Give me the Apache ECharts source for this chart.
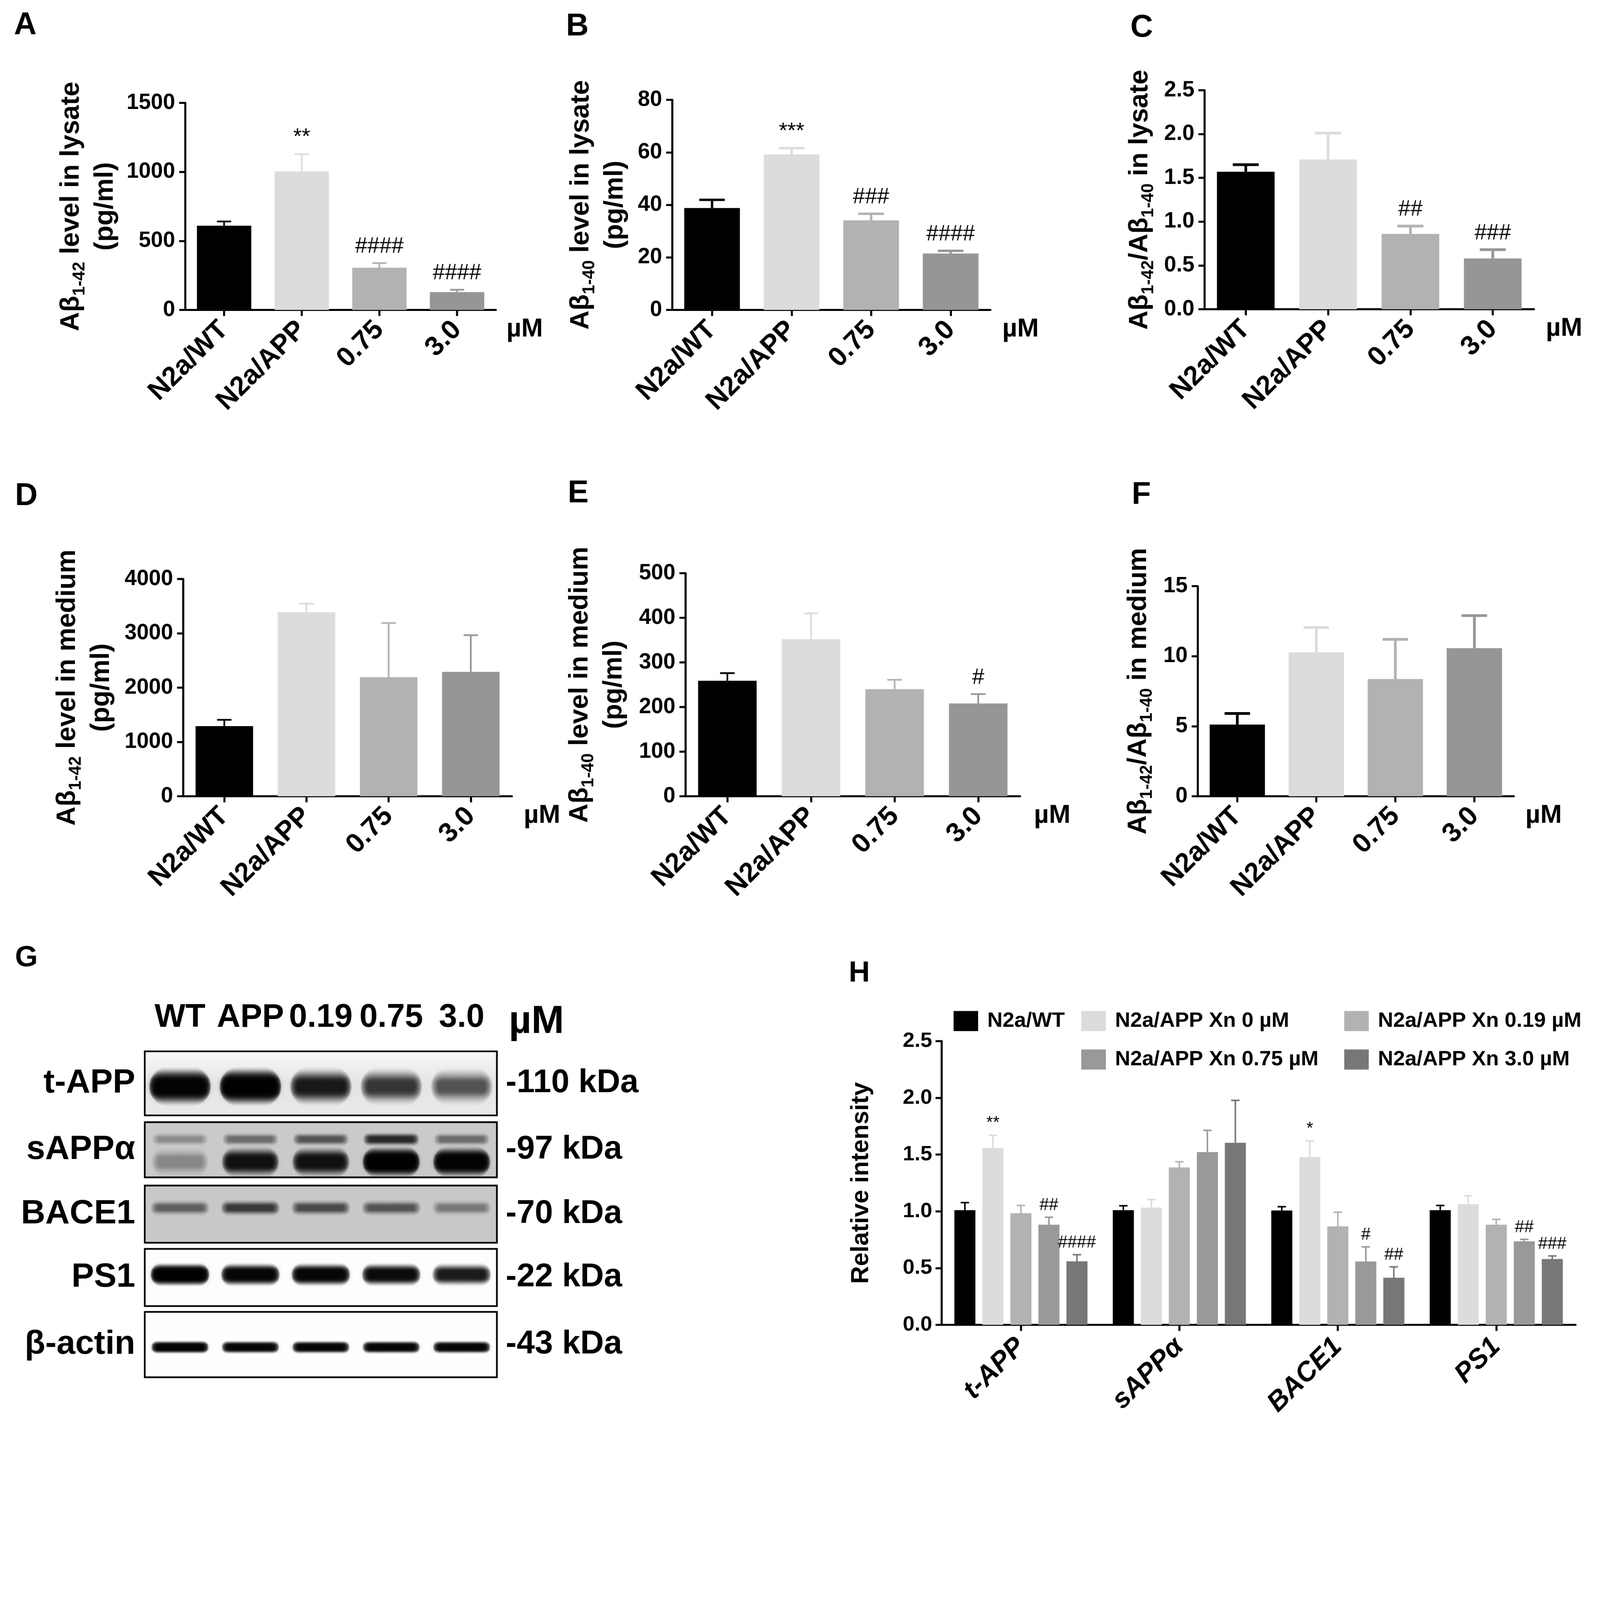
<!DOCTYPE html>
<html>
<head>
<meta charset="utf-8">
<script src="https://cdn.jsdelivr.net/npm/echarts@6.0.0/dist/echarts.min.js"></script>
<style>
  html, body { margin: 0; padding: 0; background: #fff; overflow: hidden; }
  #fig { width: 4698px; height: 4178px; transform-origin: 0 0; }
</style>
</head>
<body>
<div id="fig"></div>
<script>
// ---- data ----
const groups = ['N2a/WT', 'N2a/APP', '0.75', '3.0'];
const groupColors = ['#000000', '#dcdcdc', '#b2b2b2', '#969696'];

// A: Ab1-42 in lysate
const lysate42 = [610, 1003, 306, 129];
const lysate42Err = [31, 125, 33, 17];
const lysate42Marks = ['', '**', '####', '####'];
const lysate42Ticks = [0, 500, 1000, 1500];
// B: Ab1-40 in lysate
const lysate40 = [38.8, 59.2, 34.1, 21.5];
const lysate40Err = [3.1, 2.4, 2.5, 1.0];
const lysate40Marks = ['', '***', '###', '####'];
const lysate40Ticks = [0, 20, 40, 60, 80];
// C: ratio in lysate
const lysateRatio = [1.57, 1.71, 0.86, 0.58];
const lysateRatioErr = [0.08, 0.30, 0.09, 0.10];
const lysateRatioMarks = ['', '', '##', '###'];
const lysateRatioTicks = [0, 0.5, 1.0, 1.5, 2.0, 2.5];
// D: Ab1-42 in medium
const medium42 = [1292, 3388, 2191, 2290];
const medium42Err = [115, 157, 999, 675];
const medium42Marks = ['', '', '', ''];
const medium42Ticks = [0, 1000, 2000, 3000, 4000];
// E: Ab1-40 in medium
const medium40 = [259, 352, 240, 208];
const medium40Err = [17, 58, 21, 21];
const medium40Marks = ['', '', '', '#'];
const medium40Ticks = [0, 100, 200, 300, 400, 500];
// F: ratio in medium
const mediumRatio = [5.12, 10.28, 8.37, 10.57];
const mediumRatioErr = [0.79, 1.77, 2.83, 2.33];
const mediumRatioMarks = ['', '', '', ''];
const mediumRatioTicks = [0, 5, 10, 15];

// G: western blot (relative band darkness per lane)
const lanes = ['WT', 'APP', '0.19', '0.75', '3.0'];
const blotRows = ['t-APP', 'sAPPα', 'BACE1', 'PS1', 'β-actin'];
const blotMarkers = ['-110 kDa', '-97 kDa', '-70 kDa', '-22 kDa', '-43 kDa'];
const tAppBand = [0.97, 1.0, 0.85, 0.72, 0.6];
const sAppUpperBand = [0.3, 0.45, 0.55, 0.75, 0.45];
const sAppLowerBand = [0.32, 0.88, 0.88, 1.0, 0.97];
const bace1Band = [0.5, 0.68, 0.6, 0.55, 0.38];
const ps1Band = [1.0, 0.95, 0.95, 0.92, 0.85];
const actinBand = [0.97, 0.95, 0.95, 0.95, 0.95];

// H: relative intensity
const proteins = ['t-APP', 'sAPPα', 'BACE1', 'PS1'];
const doseNames = ['N2a/WT', 'N2a/APP Xn 0 µM', 'N2a/APP Xn 0.19 µM', 'N2a/APP Xn 0.75 µM', 'N2a/APP Xn 3.0 µM'];
const doseColors = ['#000000', '#dcdcdc', '#b2b2b2', '#999999', '#777777'];
const relWT = [1.011, 1.011, 1.008, 1.011];
const relWTErr = [0.066, 0.038, 0.033, 0.041];
const relApp = [1.558, 1.033, 1.478, 1.063];
const relAppErr = [0.112, 0.071, 0.143, 0.074];
const rel019 = [0.984, 1.387, 0.868, 0.882];
const rel019Err = [0.068, 0.050, 0.124, 0.047];
const rel075 = [0.882, 1.522, 0.558, 0.736];
const rel075Err = [0.066, 0.192, 0.129, 0.017];
const rel30 = [0.560, 1.604, 0.415, 0.580];
const rel30Err = [0.058, 0.374, 0.096, 0.027];
const relMarks = [['', '', '', ''], ['**', '', '*', ''], ['', '', '', ''], ['##', '', '#', '##'], ['####', '', '##', '###']];
const relTicks = [0, 0.5, 1.0, 1.5, 2.0, 2.5];

// ---- styling ----
const FONT = 'Liberation Sans';
const W = 4698, HGT = 4178;
const axisLine = { show: true, lineStyle: { color: '#000', width: 6 } };
const axisTick = { show: true, length: 18, lineStyle: { color: '#000', width: 6 } };
const titleRich = {
  t: { fontFamily: FONT, fontSize: 78, fontWeight: 'bold', color: '#000', lineHeight: 100 },
  s: { fontFamily: FONT, fontSize: 50, fontWeight: 'bold', color: '#000', lineHeight: 46, verticalAlign: 'bottom' }
};

function tickRange(ticks) {
  return { min: ticks[0], max: ticks[ticks.length - 1], interval: ticks[1] - ticks[0] };
}

function errorSeries(idx, vals, errs, marks, colorOf, o) {
  return {
    type: 'custom', xAxisIndex: idx, yAxisIndex: idx, z: 3, silent: true,
    data: vals.map((v, i) => [i, v, errs[i]]),
    renderItem(params, api) {
      const i = api.value(0), v = api.value(1), e = api.value(2);
      const cw = api.size([1, 0])[0];
      const shift = o.offset ? o.offset(cw) : 0;
      const p0 = api.coord([i, v]), p1 = api.coord([i, v + e]);
      const x = p0[0] + shift;
      const capW = cw * o.barFrac * o.cap;
      const col = colorOf(i);
      const kids = [
        { type: 'line', shape: { x1: x, y1: p0[1], x2: x, y2: p1[1] }, style: { stroke: col, lineWidth: o.lw } },
        { type: 'line', shape: { x1: x - capW / 2, y1: p1[1], x2: x + capW / 2, y2: p1[1] }, style: { stroke: col, lineWidth: o.lw } }
      ];
      if (marks[i]) {
        kids.push({ type: 'text', style: { text: marks[i], x: x, y: p1[1] - o.markGap, align: 'center', verticalAlign: 'bottom', fontFamily: FONT, fontSize: o.markSize, fill: '#000' } });
      }
      return { type: 'group', children: kids };
    }
  };
}

const panels = [
  { vals: lysate42, errs: lysate42Err, marks: lysate42Marks, ticks: lysate42Ticks, digits: 0,
    title: '{t|Aβ}{s|1-42}{t| level in lysate}\n{t|(pg/ml)}',
    box: { left: 544, top: 302, width: 912, height: 608 }, nameGap: 185, cap: 0.26, lw: 5, unitGap: 31 },
  { vals: lysate40, errs: lysate40Err, marks: lysate40Marks, ticks: lysate40Ticks, digits: 0,
    title: '{t|Aβ}{s|1-40}{t| level in lysate}\n{t|(pg/ml)}',
    box: { left: 1974, top: 293, width: 934, height: 617 }, nameGap: 118, cap: 0.46, lw: 7, unitGap: 35 },
  { vals: lysateRatio, errs: lysateRatioErr, marks: lysateRatioMarks, ticks: lysateRatioTicks, digits: 1,
    title: '{t|Aβ}{s|1-42}{t|/Aβ}{s|1-40}{t| in lysate}',
    box: { left: 3537, top: 265, width: 967, height: 643 }, nameGap: 140, cap: 0.45, lw: 8, unitGap: 35 },
  { vals: medium42, errs: medium42Err, marks: medium42Marks, ticks: medium42Ticks, digits: 0,
    title: '{t|Aβ}{s|1-42}{t| level in medium}\n{t|(pg/ml)}',
    box: { left: 538, top: 1700, width: 965, height: 638 }, nameGap: 190, cap: 0.25, lw: 5, unitGap: 35 },
  { vals: medium40, errs: medium40Err, marks: medium40Marks, ticks: medium40Ticks, digits: 0,
    title: '{t|Aβ}{s|1-40}{t| level in medium}\n{t|(pg/ml)}',
    box: { left: 2013, top: 1683, width: 982, height: 655 }, nameGap: 160, cap: 0.25, lw: 5, unitGap: 41 },
  { vals: mediumRatio, errs: mediumRatioErr, marks: mediumRatioMarks, ticks: mediumRatioTicks, digits: 0,
    title: '{t|Aβ}{s|1-42}{t|/Aβ}{s|1-40}{t| in medium}',
    box: { left: 3517, top: 1721, width: 928, height: 617 }, nameGap: 124, cap: 0.46, lw: 8, unitGap: 34 }
];

const grids = [], xAxes = [], yAxes = [], series = [], legends = [], graphic = [];

panels.forEach((p, k) => {
  const r = tickRange(p.ticks);
  grids.push(Object.assign({}, p.box));
  xAxes.push({
    type: 'category', gridIndex: k, data: groups,
    axisLine, axisTick: Object.assign({ alignWithLabel: true }, axisTick),
    axisLabel: { rotate: 45, interval: 0, margin: 46, fontSize: 80, fontWeight: 'bold', color: '#000', fontFamily: FONT }
  });
  yAxes.push({
    type: 'value', gridIndex: k, min: r.min, max: r.max, interval: r.interval,
    axisLine, axisTick, splitLine: { show: false },
    axisLabel: { margin: 30, fontSize: 64, fontWeight: 'bold', color: '#000', fontFamily: FONT, formatter: v => v.toFixed(p.digits) },
    name: p.title, nameLocation: 'middle', nameRotate: 90, nameGap: p.nameGap,
    nameTextStyle: { rich: titleRich, align: 'center' }
  });
  series.push({
    type: 'bar', xAxisIndex: k, yAxisIndex: k, barWidth: '70%', silent: true,
    data: p.vals.map((v, i) => ({ value: v, itemStyle: { color: groupColors[i] } }))
  });
  series.push(errorSeries(k, p.vals, p.errs, p.marks, i => groupColors[i],
    { barFrac: 0.7, cap: p.cap, lw: p.lw, markGap: 16, markSize: 64 }));
  // unit label sits just below the right end of the x axis
  graphic.push({
    type: 'text', x: p.box.left + p.box.width + p.unitGap, y: p.box.top + p.box.height + 57,
    style: { text: 'µM', fontFamily: FONT, fontSize: 76, fontWeight: 'bold', fill: '#000', verticalAlign: 'middle' }
  });
});

// ---- H: grouped bars ----
const H = 6;
const relVals = [relWT, relApp, rel019, rel075, rel30];
const relErrs = [relWTErr, relAppErr, rel019Err, rel075Err, rel30Err];
const catGap = 0.16, barGap = 0.33, nBars = relVals.length;
const barFracH = (1 - catGap) / (nBars + (nBars - 1) * barGap);
const rH = tickRange(relTicks);
grids.push({ left: 2765, top: 3057, width: 1861, height: 833 });
xAxes.push({
  type: 'category', gridIndex: H, data: proteins,
  axisLine, axisTick: Object.assign({ alignWithLabel: true }, axisTick),
  axisLabel: { rotate: 45, interval: 0, margin: 52, fontSize: 80, fontWeight: 'bold', fontStyle: 'italic', color: '#000', fontFamily: FONT }
});
yAxes.push({
  type: 'value', gridIndex: H, min: rH.min, max: rH.max, interval: rH.interval,
  axisLine, axisTick, splitLine: { show: false },
  axisLabel: { margin: 28, fontSize: 62, fontWeight: 'bold', color: '#000', fontFamily: FONT, formatter: v => v.toFixed(1) },
  name: 'Relative intensity', nameLocation: 'middle', nameRotate: 90, nameGap: 200,
  nameTextStyle: { fontSize: 72, fontWeight: 'bold', color: '#000', fontFamily: FONT }
});
relVals.forEach((vals, j) => {
  series.push({
    type: 'bar', name: doseNames[j], xAxisIndex: H, yAxisIndex: H, silent: true,
    barGap: (barGap * 100) + '%', barCategoryGap: (catGap * 100) + '%',
    itemStyle: { color: doseColors[j] }, data: vals
  });
  series.push(errorSeries(H, vals, relErrs[j], relMarks[j], () => doseColors[j], {
    barFrac: barFracH, cap: 0.4, lw: 4.5, markGap: 10, markSize: 50,
    offset: cw => cw * (-(1 - catGap) / 2 + barFracH / 2 + j * barFracH * (1 + barGap))
  }));
});
const legendSpots = [[2800, 2967], [3175, 2967], [3947, 2967], [3175, 3080], [3947, 3080]];
doseNames.forEach((nm, j) => {
  legends.push({
    data: [nm], left: legendSpots[j][0], top: legendSpots[j][1], padding: 0,
    icon: 'rect', itemWidth: 72, itemHeight: 59, selectedMode: false,
    textStyle: { fontSize: 62, fontWeight: 'bold', color: '#000', fontFamily: FONT, padding: [0, 0, 0, 22] }
  });
});

// ---- G: western blot ----
// pos = band centre as a fraction of the box height, h = dark core height, w = fraction of lane width
const blotBands = [
  [{ vals: tAppBand, pos: 0.55, h: 0.26, w: 0.82, spread: 1.6 }],
  [{ vals: sAppUpperBand, pos: 0.31, h: 0.13, w: 0.74, spread: 1.4 },
   { vals: sAppLowerBand, pos: 0.72, h: 0.28, w: 0.76, spread: 1.4 }],
  [{ vals: bace1Band, pos: 0.39, h: 0.13, w: 0.78, spread: 1.6 }],
  [{ vals: ps1Band, pos: 0.45, h: 0.22, w: 0.78, spread: 1.3 }],
  [{ vals: actinBand, pos: 0.54, h: 0.11, w: 0.76, spread: 1.3 }]
];
const blotBoxes = [
  { top: 3087, height: 188, bg: { type: 'linear', x: 0, y: 0, x2: 0, y2: 1, colorStops: [{ offset: 0, color: '#fafafa' }, { offset: 0.5, color: '#e4e4e4' }, { offset: 1, color: '#ebebeb' }] } },
  { top: 3295, height: 162, bg: '#cacaca' },
  { top: 3481, height: 168, bg: '#c8c8c8' },
  { top: 3667, height: 168, bg: '#fdfdfd' },
  { top: 3852, height: 192, bg: '#fefefe' }
];

// a band is a stack of soft translucent layers so both its top/bottom and its ends fade out
function bandRenderer(band) {
  const layers = 6;
  return function (params, api) {
    const cs = params.coordSys;
    const a = Math.min(api.value(1), 0.985);
    const cx = api.coord([api.value(0), 0])[0];
    const w = api.size([1, 0])[0] * band.w;
    const core = cs.height * band.h;
    const cy = cs.y + cs.height * band.pos;
    const al = 1 - Math.pow(1 - a, 1 / layers);
    const kids = [];
    for (let k = 0; k < layers; k++) {
      const t = k / (layers - 1);
      const lw = w * (1.06 - 0.22 * t);
      const lh = core * (band.spread * 1.5 - (band.spread * 1.5 - 1.1) * t);
      kids.push({
        type: 'rect',
        shape: { x: cx - lw / 2, y: cy - lh / 2, width: lw, height: lh, r: lh / 2 },
        style: {
          fill: new echarts.graphic.LinearGradient(0, 0, 0, 1, [
            { offset: 0, color: 'rgba(0,0,0,0)' },
            { offset: 0.3, color: 'rgba(0,0,0,' + al + ')' },
            { offset: 0.7, color: 'rgba(0,0,0,' + al + ')' },
            { offset: 1, color: 'rgba(0,0,0,0)' }
          ]),
          shadowBlur: 12, shadowColor: 'rgba(0,0,0,' + (al * 0.8) + ')'
        }
      });
    }
    return { type: 'group', children: kids };
  };
}

const nFirst = grids.length; // 7
blotRows.forEach((row, r) => {
  const g = nFirst + r;
  grids.push({ left: 425, width: 1034, top: blotBoxes[r].top, height: blotBoxes[r].height,
    show: true, borderColor: '#000', borderWidth: 5, backgroundColor: blotBoxes[r].bg });
  xAxes.push({
    type: 'category', gridIndex: g, data: lanes, position: 'top',
    axisLine: { show: false }, axisTick: { show: false },
    axisLabel: { show: r === 0, interval: 0, margin: 50, fontSize: 96, fontWeight: 'bold', color: '#000', fontFamily: FONT }
  });
  series.push(...blotBands[r].map(b => ({
    type: 'custom', xAxisIndex: g, yAxisIndex: g, silent: true, clip: true,
    data: b.vals.map((v, i) => [i, v]), renderItem: bandRenderer(b)
  })));
});
blotRows.forEach((row, r) => {
  yAxes.push({
    type: 'category', gridIndex: nFirst + r, data: [row], position: 'left',
    axisLine: { show: false }, axisTick: { show: false },
    axisLabel: { margin: 28, fontSize: 99, fontWeight: 'bold', color: '#000', fontFamily: FONT }
  });
});
blotRows.forEach((row, r) => {
  yAxes.push({
    type: 'category', gridIndex: nFirst + r, data: [blotMarkers[r]], position: 'right',
    axisLine: { show: false }, axisTick: { show: false },
    axisLabel: { margin: 26, fontSize: 96, fontWeight: 'bold', color: '#000', fontFamily: FONT }
  });
});

// ---- panel letters and the blot unit ----
const letters = [['A', 41, 29], ['B', 1662, 33], ['C', 3319, 37], ['D', 44, 1412], ['E', 1667, 1404],
  ['F', 3323, 1408], ['G', 44, 2770], ['H', 2492, 2815]];
letters.forEach(([t, x, y]) => graphic.push({
  type: 'text', left: x, top: y,
  style: { text: t, fontFamily: FONT, fontSize: t === 'G' || t === 'H' ? 86 : 92, fontWeight: 'bold', fill: '#000' }
}));
graphic.push({ type: 'text', left: 1494, top: 2944,
  style: { text: 'µM', fontFamily: FONT, fontSize: 115, fontWeight: 'bold', fill: '#000' } });

// fit the 4698x4178 figure into whatever css viewport the browser gives
const fig = document.getElementById('fig');
const fit = Math.min(window.innerWidth / W, window.innerHeight / HGT);
if (fit && Math.abs(fit - 1) > 0.001) fig.style.transform = 'scale(' + fit + ')';

const chart = echarts.init(fig, null, { width: W, height: HGT });
chart.setOption({
  backgroundColor: '#ffffff',
  animation: false,
  textStyle: { fontFamily: FONT },
  grid: grids,
  xAxis: xAxes,
  yAxis: yAxes,
  legend: legends,
  graphic: graphic,
  series: series
});
</script>
</body>
</html>
